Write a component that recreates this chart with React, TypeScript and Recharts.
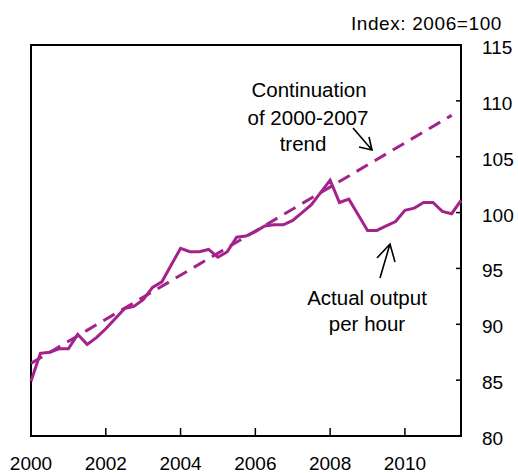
import React from 'react';
import { LineChart, Line, XAxis, YAxis, ReferenceArea } from 'recharts';

// quarterly, index 2006=100
const quarters = [
  2000, 2000.25, 2000.5, 2000.75, 2001, 2001.25, 2001.5, 2001.75,
  2002, 2002.25, 2002.5, 2002.75, 2003, 2003.25, 2003.5, 2003.75,
  2004, 2004.25, 2004.5, 2004.75, 2005, 2005.25, 2005.5, 2005.75,
  2006, 2006.25, 2006.5, 2006.75, 2007, 2007.25, 2007.5, 2007.75,
  2008, 2008.25, 2008.5, 2008.75, 2009, 2009.25, 2009.5, 2009.75,
  2010, 2010.25, 2010.5, 2010.75, 2011, 2011.25, 2011.5,
];
const actualOutput = [
  84.9, 87.4, 87.5, 87.8, 87.8, 89.1, 88.2, 88.8,
  89.6, 90.5, 91.4, 91.6, 92.2, 93.3, 93.8, 95.3,
  96.8, 96.5, 96.5, 96.7, 96.0, 96.5, 97.8, 97.9,
  98.3, 98.8, 98.9, 98.9, 99.3, 100.0, 100.7, 101.8,
  102.9, 100.9, 101.2, 99.8, 98.4, 98.4, 98.8, 99.2,
  100.2, 100.4, 100.9, 100.9, 100.1, 99.9, 101.1,
];
// 2000-2007 trend, only its end points
const trendPoints: Record<number, number> = { 2000: 86.5, 2011.25: 108.7 };

const xTicks = [2000, 2002, 2004, 2006, 2008, 2010];
const yTicks = [80, 85, 90, 95, 100, 105, 110, 115];

const data = quarters.map((q, i) => ({
  t: q,
  actual: actualOutput[i],
  trend: trendPoints[q] ?? null,
}));

const PURPLE = '#A3238A';
const FONT = '"Liberation Sans", Arial, sans-serif';

const XTick = (props: any) => {
  const { x, y, payload } = props;
  return (
    <g>
      <line x1={x} x2={x} y1={y} y2={y - 8} stroke="#000" strokeWidth={1.5} />
      <text x={x} y={y + 34} textAnchor="middle" fontSize={19} fontFamily={FONT} fill="#000">
        {payload.value}
      </text>
    </g>
  );
};

const YTick = (props: any) => {
  const { x, y, payload } = props;
  return (
    <g>
      <line x1={x - 5} x2={x} y1={y} y2={y} stroke="#000" strokeWidth={1.5} />
      <text x={x + 21} y={y + 9} textAnchor="start" fontSize={19} fontFamily={FONT} fill="#000">
        {payload.value}
      </text>
    </g>
  );
};

export default function App() {
  return (
    <div style={{ position: 'absolute', left: 0, top: 0, width: 518, height: 473, background: '#fff' }}>
      <LineChart width={518} height={473} data={data} margin={{ top: 45, right: 7, bottom: 7, left: 31 }}>
        <XAxis
          dataKey="t"
          type="number"
          domain={[2000, 2011.5]}
          ticks={xTicks}
          interval={0}
          height={30}
          tickSize={0}
          tickMargin={0}
          axisLine={false}
          tick={<XTick />}
        />
        <YAxis
          orientation="right"
          type="number"
          domain={[80, 115]}
          ticks={yTicks}
          interval={0}
          width={50}
          tickSize={0}
          tickMargin={0}
          axisLine={false}
          tick={<YTick />}
        />
        <ReferenceArea x1={2000} x2={2011.5} y1={80} y2={115} fill="none" stroke="#000" strokeWidth={2} />
        <Line
          dataKey="trend"
          stroke={PURPLE}
          strokeWidth={3}
          strokeDasharray="13 8"
          dot={false}
          connectNulls
          isAnimationActive={false}
        />
        <Line
          dataKey="actual"
          stroke={PURPLE}
          strokeWidth={3}
          dot={false}
          isAnimationActive={false}
        />
      </LineChart>
      <svg width={518} height={473} style={{ position: 'absolute', left: 0, top: 0, pointerEvents: 'none' }}>
        <g fontFamily={FONT} fontSize={20.5} fill="#000">
          <text x={502} y={30} textAnchor="end" fontSize={19} letterSpacing={0.6}>Index: 2006=100</text>
          <text x={309} y={97} textAnchor="middle">Continuation</text>
          <text x={308} y={125} textAnchor="middle">of 2000-2007</text>
          <text x={303} y={151} textAnchor="middle">trend</text>
          <text x={367} y={305} textAnchor="middle">Actual output</text>
          <text x={367} y={331} textAnchor="middle">per hour</text>
        </g>
        <g stroke="#000" strokeWidth={1.6} fill="none">
          <path d="M353,128 L372,150 M369,137 L372,150 L359,147" />
          <path d="M380,278 L390,244 M377,258 L390,244 L395,262" />
        </g>
      </svg>
    </div>
  );
}
